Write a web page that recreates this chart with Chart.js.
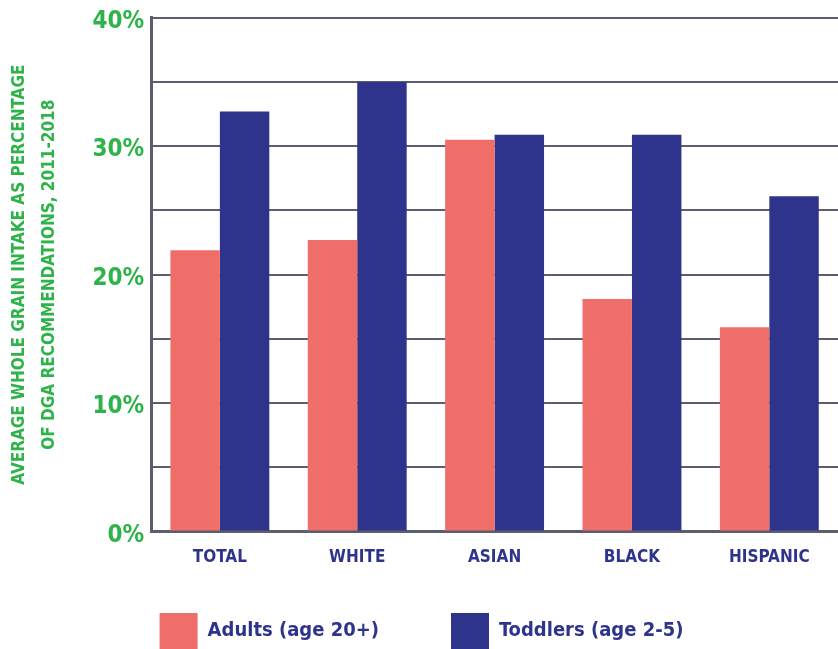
<!DOCTYPE html>
<html>
<head>
<meta charset="utf-8">
<script src="https://cdn.jsdelivr.net/npm/chart.js@4"></script>
<style>
  html, body { margin: 0; padding: 0; background: #fff; }
  #wrap { width: 838px; height: 649px; }
</style>
</head>
<body>
<div id="wrap"><canvas id="grainChart"></canvas></div>
<script>
const groups = ['TOTAL', 'WHITE', 'ASIAN', 'BLACK', 'HISPANIC'];
const adults = [21.9, 22.7, 30.5, 18.1, 15.9];
const toddlers = [32.7, 35.0, 30.9, 30.9, 26.1];
const seriesNames = ['Adults (age 20+)', 'Toddlers (age 2-5)'];
const yTitle = ['AVERAGE WHOLE GRAIN INTAKE AS PERCENTAGE', 'OF DGA RECOMMENDATIONS, 2011-2018'];

const FONT = "'Liberation Sans Narrow', 'DejaVu Sans Condensed', sans-serif";
const GREEN = '#2db34a';
const NAVY = '#2e348c';
const PINK = '#f06e69';
const GRID = '#5c5d70';

// keep the wide gap between legend items without pushing the boxes down
const legendShift = {
    id: 'legendShift',
    afterLayout(chart) {
        const lg = chart.legend;
        lg.top = lg.bottom - 36 - lg.options.labels.padding;
    }
};

const ctx = document.getElementById('grainChart').getContext('2d');
new Chart(ctx, {
    type: 'bar',
    data: {
        labels: groups,
        datasets: [{
            label: seriesNames[0],
            data: adults,
            backgroundColor: PINK
        }, {
            label: seriesNames[1],
            data: toddlers,
            backgroundColor: NAVY
        }]
    },
    options: {
        responsive: true,
        maintainAspectRatio: false,
        animation: false,
        layout: { padding: { top: 0, right: 0, bottom: 0, left: 5 } },
        datasets: {
            bar: { categoryPercentage: 0.72, barPercentage: 1 }
        },
        scales: {
            x: {
                grid: { display: false },
                border: { display: true, color: GRID, width: 3 },
                ticks: {
                    color: NAVY,
                    padding: 8,
                    font: { family: FONT, size: 17, weight: 'bold' }
                }
            },
            y: {
                min: 0,
                max: 40,
                grid: { color: GRID, lineWidth: 2, drawTicks: false },
                border: { display: true, color: GRID, width: 3 },
                ticks: {
                    stepSize: 5,
                    padding: 7,
                    labelOffset: 4,
                    color: GREEN,
                    font: { family: FONT, size: 24, weight: 'bold', lineHeight: 0.9 },
                    callback: v => (v % 10 === 0 ? v + '%' : '')
                },
                title: {
                    display: true,
                    text: yTitle,
                    color: GREEN,
                    padding: { top: 0, bottom: 21 },
                    font: { family: FONT, size: 17, weight: 'bold', lineHeight: 1.75 }
                }
            }
        },
        plugins: {
            legend: {
                position: 'bottom',
                maxHeight: 73,
                labels: {
                    boxWidth: 38,
                    boxHeight: 36,
                    padding: 72,
                    color: NAVY,
                    font: { family: FONT, size: 20, weight: 'bold' }
                }
            },
            tooltip: { enabled: false }
        }
    },
    plugins: [legendShift]
});
</script>
</body>
</html>
